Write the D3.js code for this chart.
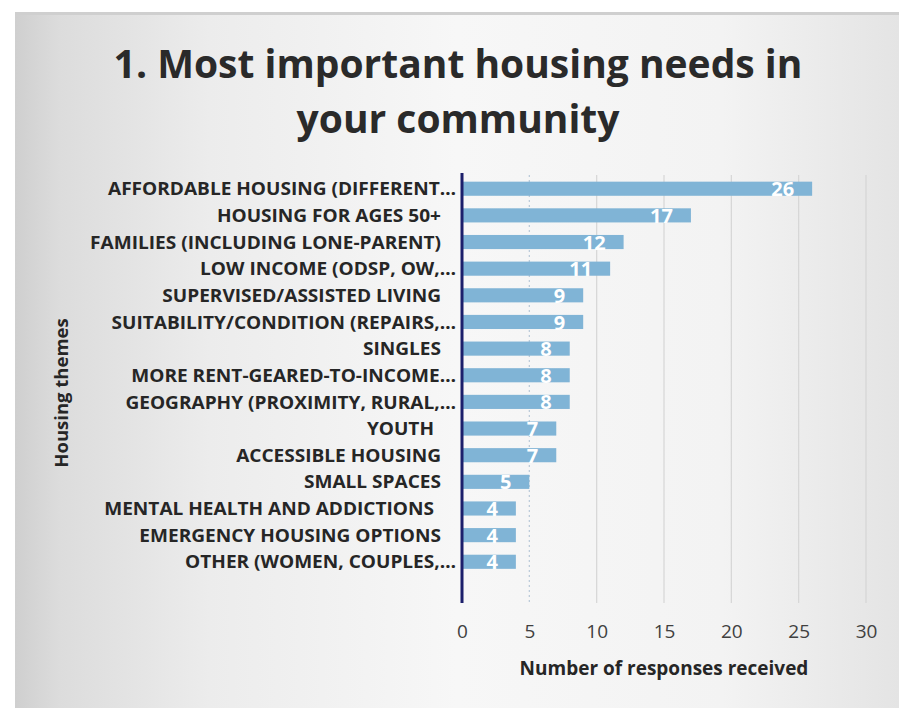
<!DOCTYPE html>
<html>
<head>
<meta charset="utf-8">
<script src="https://cdn.jsdelivr.net/npm/d3@7/dist/d3.min.js"></script>
<style>
  html, body { margin: 0; padding: 0; background: #fff; }
  svg { display: block; }
</style>
</head>
<body>
<svg id="chart" width="910" height="708"></svg>
<script>
// Housing needs survey: responses per theme
const themes = [
  "AFFORDABLE HOUSING (DIFFERENT…",
  "HOUSING FOR AGES 50+",
  "FAMILIES (INCLUDING LONE-PARENT)",
  "LOW INCOME (ODSP, OW,…",
  "SUPERVISED/ASSISTED LIVING",
  "SUITABILITY/CONDITION (REPAIRS,…",
  "SINGLES",
  "MORE RENT-GEARED-TO-INCOME…",
  "GEOGRAPHY (PROXIMITY, RURAL,…",
  "YOUTH",
  "ACCESSIBLE HOUSING",
  "SMALL SPACES",
  "MENTAL HEALTH AND ADDICTIONS",
  "EMERGENCY HOUSING OPTIONS",
  "OTHER (WOMEN, COUPLES,…"
];
const responses = [26, 17, 12, 11, 9, 9, 8, 8, 8, 7, 7, 5, 4, 4, 4];
const xTicks = [0, 5, 10, 15, 20, 25, 30];

const titleLines = ["1. Most important housing needs in", "your community"];
const xTitle = "Number of responses received";
const yTitle = "Housing themes";

const svg = d3.select("#chart");

// paper-like backdrop
const defs = svg.append("defs");
const bg = defs.append("linearGradient").attr("id", "paper").attr("x1", 0).attr("x2", 1).attr("y1", 0).attr("y2", 0);
[[0, "#cfcfcf"], [0.05, "#dcdcdc"], [0.22, "#ececec"], [0.5, "#f7f7f7"], [0.8, "#f3f3f3"], [1, "#e4e4e4"]]
  .forEach(([o, c]) => bg.append("stop").attr("offset", o).attr("stop-color", c));
svg.append("rect").attr("x", 15).attr("y", 12).attr("width", 884).attr("height", 700)
  .attr("fill", "url(#paper)");
svg.append("rect").attr("x", 15).attr("y", 12).attr("width", 884).attr("height", 3).attr("fill", "#cfcfcf");

const plot = { left: 462, right: 866, top: 175, bottom: 603 };

const x = d3.scaleLinear().domain([0, 30]).range([plot.left, plot.right]);
const y = d3.scaleBand().domain(themes).range([plot.top, plot.top + 15 * 26.7]).paddingInner(0.47).paddingOuter(0.25);

// horizontal scaling helper to approximate the original face's widths
function condense(sel, f) {
  sel.each(function () {
    const len = this.getComputedTextLength();
    d3.select(this).attr("textLength", len * f).attr("lengthAdjust", "spacingAndGlyphs");
  });
}

// vertical gridlines
svg.append("g").selectAll("line").data(xTicks.filter(t => t > 0)).join("line")
  .attr("x1", d => x(d)).attr("x2", d => x(d))
  .attr("y1", plot.top).attr("y2", plot.bottom)
  .attr("stroke", d => d === 5 ? "#b9c9d8" : "#d6d6d6")
  .attr("stroke-width", 1.2)
  .attr("stroke-dasharray", d => d === 5 ? "2,3" : null);

// bars
svg.append("g").selectAll("rect").data(responses).join("rect")
  .attr("x", x(0))
  .attr("y", (d, i) => y(themes[i]))
  .attr("width", d => x(d) - x(0))
  .attr("height", y.bandwidth())
  .attr("fill", "#80b4d6");

// value labels inside bar ends
svg.append("g").selectAll("text").data(responses).join("text")
  .attr("x", d => x(d) - 18)
  .attr("y", (d, i) => y(themes[i]) + y.bandwidth() / 2)
  .attr("dy", "0.38em")
  .attr("text-anchor", "end")
  .attr("font-family", "Open Sans, sans-serif")
  .attr("font-weight", 700)
  .attr("font-size", 20)
  .attr("fill", "#ffffff")
  .text(d => d);

// category labels
const cats = svg.append("g").selectAll("text").data(themes).join("text")
  .attr("x", d => d.endsWith("…") ? 456 : (d === "YOUTH" || d.startsWith("MENTAL") ? 434 : 441))
  .attr("y", d => y(d) + y.bandwidth() / 2)
  .attr("dy", "0.36em")
  .attr("text-anchor", "end")
  .attr("font-family", "Open Sans, sans-serif")
  .attr("font-weight", 700)
  .attr("font-size", 18.5)
  .attr("fill", "#262626")
  .text(d => d);
condense(cats, 1.03);

// y axis line
svg.append("line").attr("x1", x(0)).attr("x2", x(0))
  .attr("y1", plot.top - 2).attr("y2", plot.bottom)
  .attr("stroke", "#1c1f6b").attr("stroke-width", 3);

// x axis tick labels
const xAxis = d3.axisBottom(x).tickValues(xTicks).tickSize(0).tickPadding(0);
const gx = svg.append("g").attr("transform", `translate(0, ${624})`).call(xAxis);
gx.select(".domain").remove();
gx.selectAll("text")
  .attr("font-family", "Open Sans, sans-serif")
  .attr("font-size", 19)
  .attr("fill", "#404040")
  .attr("dy", "0.71em");

// axis titles
svg.append("text").attr("x", (plot.left + plot.right) / 2).attr("y", 675)
  .attr("text-anchor", "middle")
  .attr("font-family", "Open Sans, sans-serif").attr("font-weight", 700).attr("font-size", 19)
  .attr("fill", "#262626").text(xTitle);

svg.append("text").attr("transform", "translate(68, 393) rotate(-90)")
  .attr("text-anchor", "middle")
  .attr("font-family", "Open Sans, sans-serif").attr("font-weight", 700).attr("font-size", 18.5)
  .attr("fill", "#262626").text(yTitle);

// title
svg.append("g").selectAll("text").data(titleLines).join("text")
  .attr("x", 458).attr("y", (d, i) => 78 + i * 55)
  .attr("text-anchor", "middle")
  .attr("font-family", "Open Sans, sans-serif").attr("font-weight", 700).attr("font-size", 39)
  .attr("fill", "#2a2a2a")
  .text(d => d);
</script>
</body>
</html>
